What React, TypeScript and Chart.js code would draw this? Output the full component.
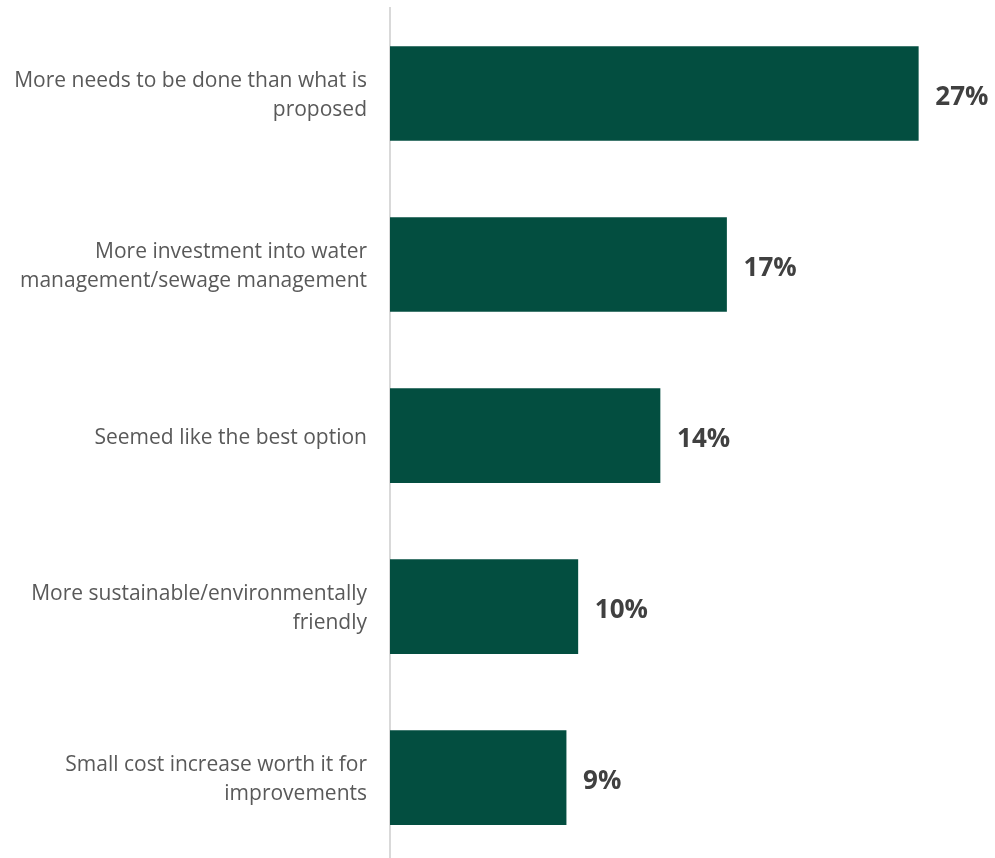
import React, { useEffect, useRef } from "react";
import { Chart, registerables } from "chart.js";

Chart.register(...registerables);

const categories: string[][] = [
  ["More needs to be done than what is", "proposed"],
  ["More investment into water", "management/sewage management"],
  ["Seemed like the best option"],
  ["More sustainable/environmentally", "friendly"],
  ["Small cost increase worth it for", "improvements"],
];
const values: number[] = [27, 17.2, 13.8, 9.6, 9.0];
const valueLabels: string[] = ["27%", "17%", "14%", "10%", "9%"];

const BAR_COLOR = "#034E40";

export default function App() {
  const ref = useRef<HTMLCanvasElement | null>(null);

  useEffect(() => {
    if (!ref.current) return;
    const labelPlugin = {
      id: "valueLabels",
      afterDatasetsDraw(chart: any) {
        const ctx = chart.ctx;
        const meta = chart.getDatasetMeta(0);
        ctx.save();
        ctx.font = "bold 26px 'Open Sans'";
        ctx.fillStyle = "#404040";
        ctx.textAlign = "left";
        ctx.textBaseline = "middle";
        meta.data.forEach((bar: any, i: number) => {
          ctx.fillText(valueLabels[i], bar.x + 17, bar.y + 4);
        });
        ctx.restore();
      },
    };
    const chart = new Chart(ref.current, {
      type: "bar",
      data: {
        datasets: [
          {
            data: values.map((v, i) => ({ x: v, y: i })),
            backgroundColor: BAR_COLOR,
            barThickness: 94,
          },
        ],
      },
      options: {
        indexAxis: "y",
        animation: false,
        responsive: true,
        maintainAspectRatio: false,
        layout: { padding: { top: 8, right: 18, bottom: 0, left: 0 } },
        plugins: { legend: { display: false }, tooltip: { enabled: false } },
        scales: {
          x: { type: "linear", display: false, min: 0, max: 30 },
          y: {
            type: "linear",
            reverse: true,
            offset: false,
            min: -0.5,
            max: 4.47,
            grid: { display: false, drawTicks: false },
            border: { display: true, color: "#d9d9d9", width: 2 },
            afterFit: (scale: any) => {
              scale.width = 390;
              scale.paddingTop = 0;
              scale.paddingBottom = 0;
            },
            ticks: {
              stepSize: 1,
              autoSkip: false,
              padding: 23,
              labelOffset: 2,
              color: "#595959",
              font: { family: "'Open Sans'", size: 21, lineHeight: 1.38 },
              callback: (v: any) => {
                const n = Number(v);
                return Number.isInteger(n) && n >= 0 && n < categories.length
                  ? categories[n]
                  : "";
              },
            },
          },
        },
      } as any,
      plugins: [labelPlugin],
    });
    return () => chart.destroy();
  }, []);

  return (
    <div style={{ position: "absolute", left: 0, top: 0, width: 995, height: 858, background: "#fff" }}>
      <canvas ref={ref} />
    </div>
  );
}
